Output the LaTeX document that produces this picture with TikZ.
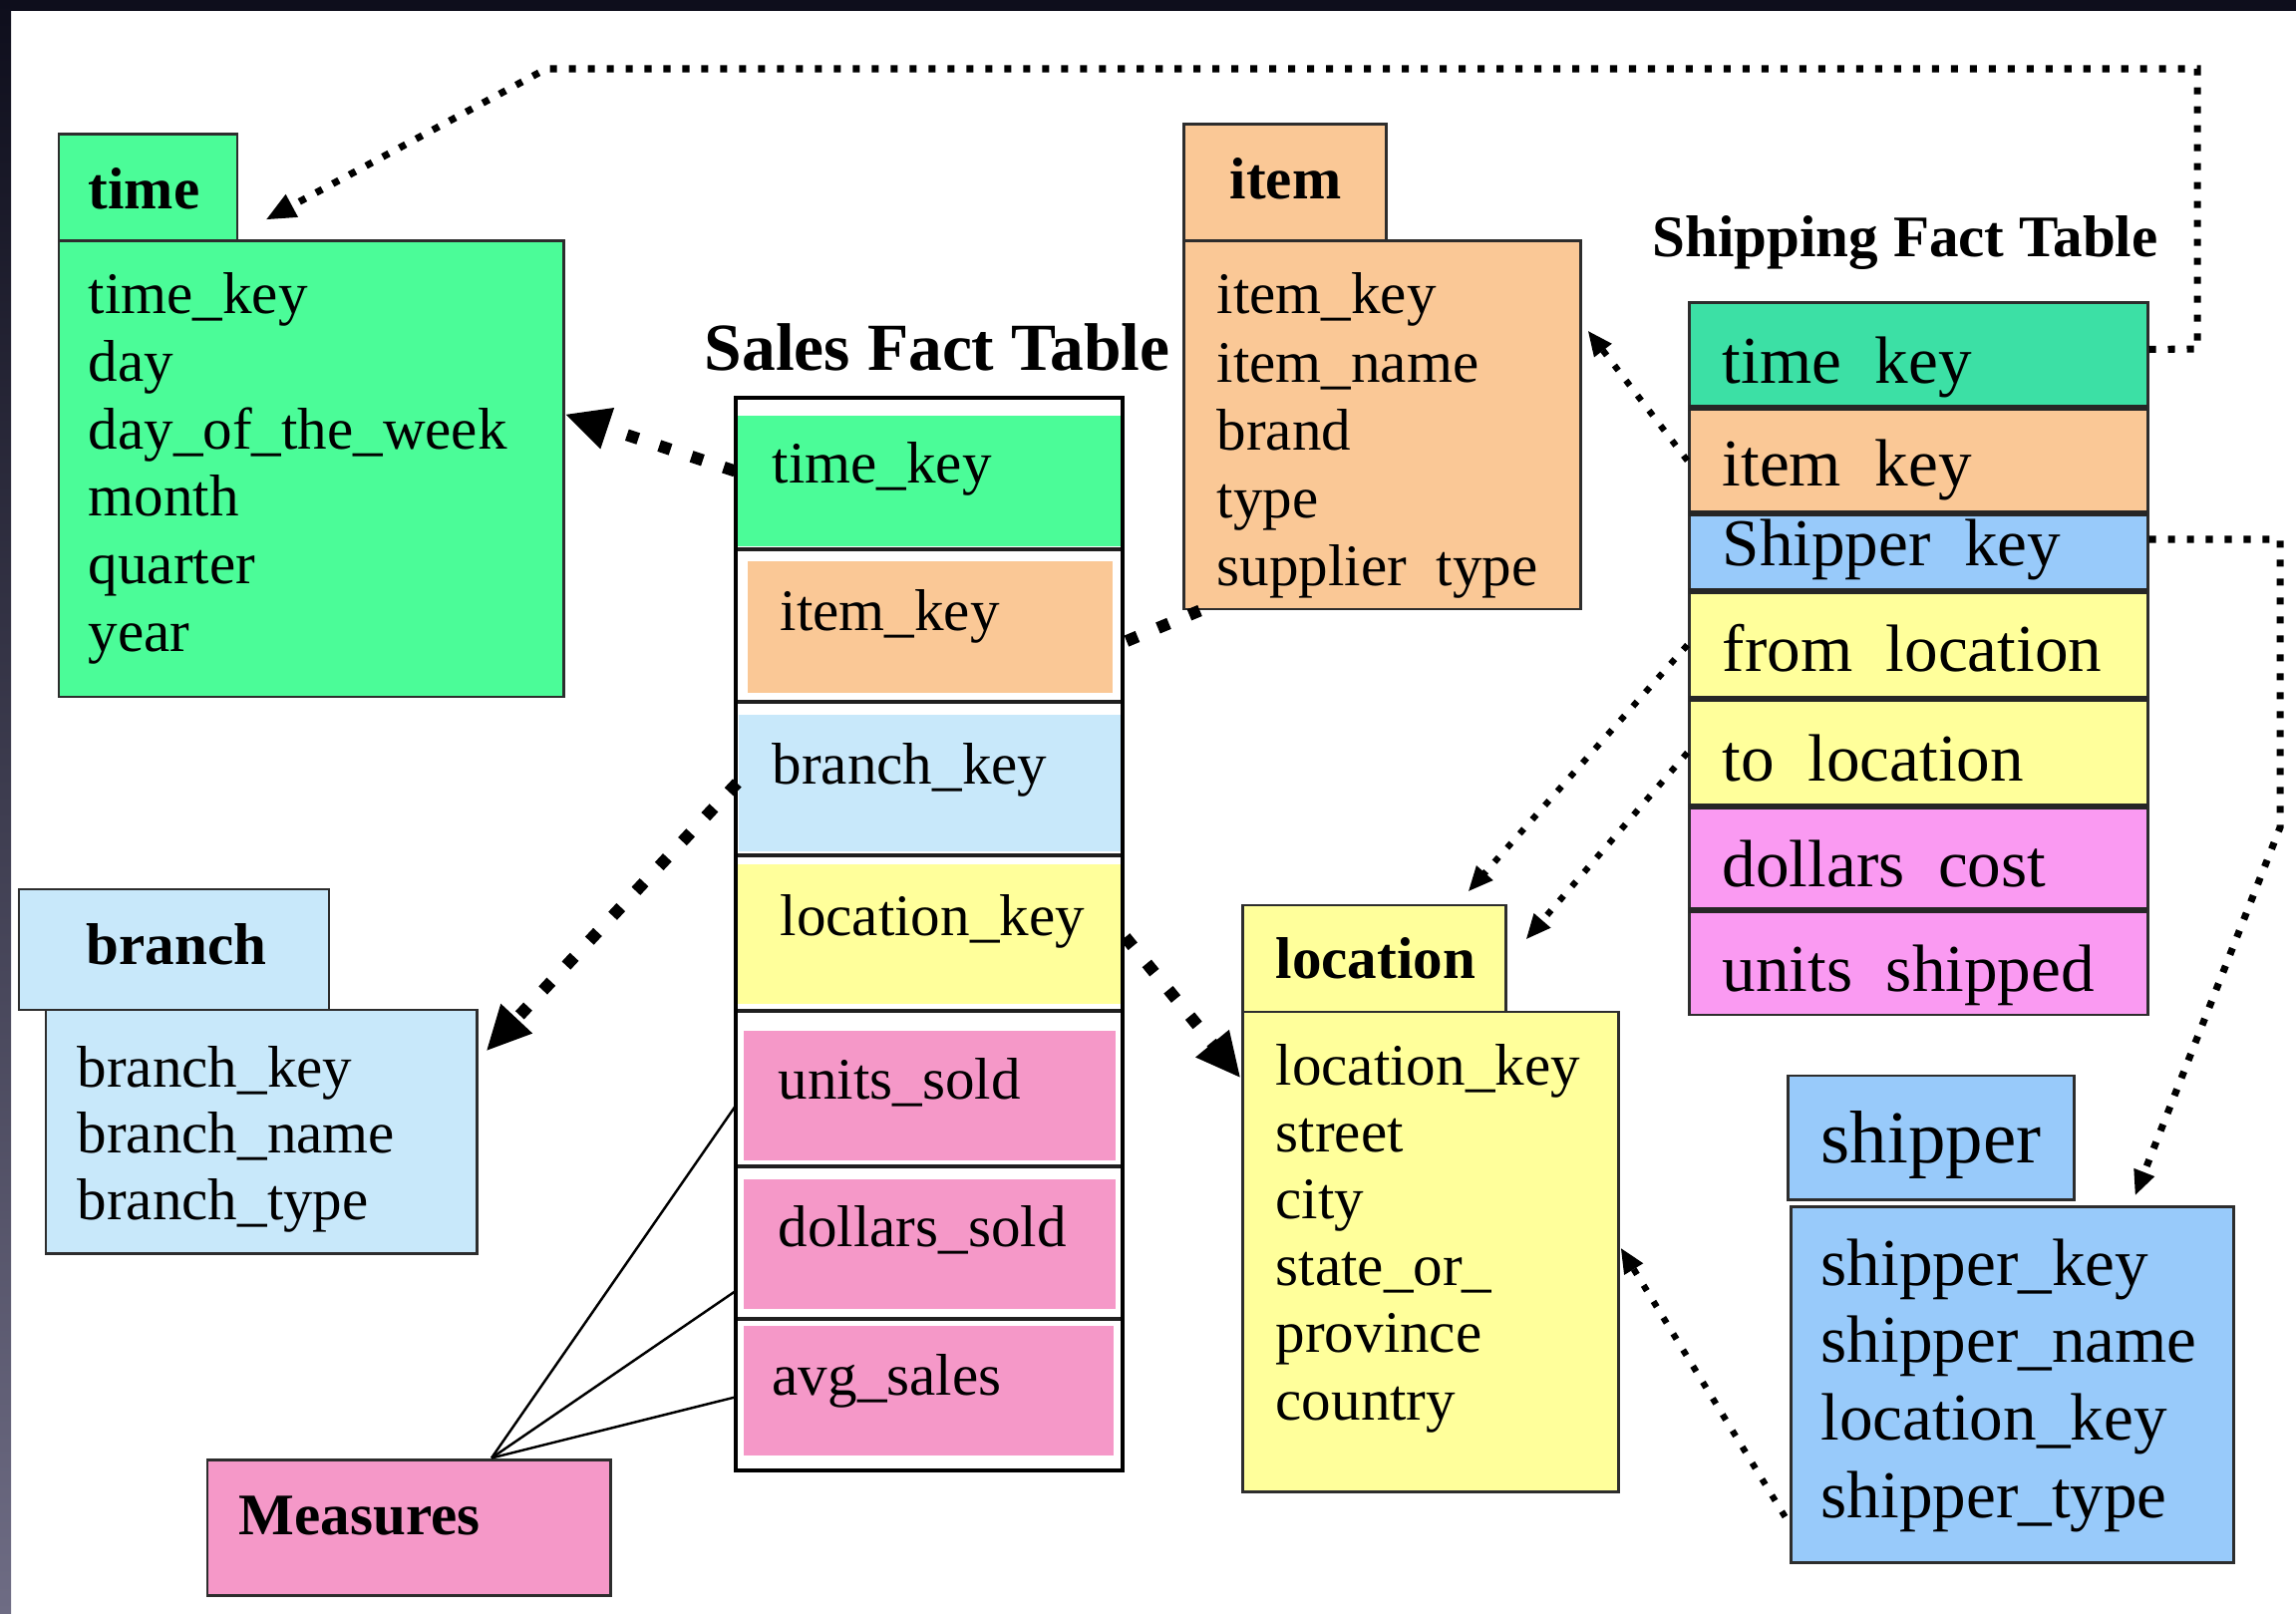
\documentclass[tikz,border=0pt]{standalone}
\usepackage{fontspec}
\setmainfont{Liberation Serif}
\usetikzlibrary{arrows.meta,calc,fit}

% colours of the tables
\definecolor{timegreen}{RGB}{75,252,152}
\definecolor{shipgreen}{RGB}{60,224,165}
\definecolor{peach}{RGB}{250,200,150}
\definecolor{paleblue}{RGB}{200,232,250}
\definecolor{skyblue}{RGB}{152,202,250}
\definecolor{lemon}{RGB}{255,255,155}
\definecolor{rose}{RGB}{245,152,200}
\definecolor{orchid}{RGB}{250,154,242}
\definecolor{edge}{RGB}{45,45,45}
\definecolor{bandtop}{RGB}{14,14,28}
\definecolor{bandbottom}{RGB}{110,108,132}

\newcommand{\fieldfont}{\fontsize{16.8pt}{20pt}\selectfont}
\newcommand{\largefield}{\fontsize{19.1pt}{22pt}\selectfont}
\newcommand{\headfont}{\fontsize{16.8pt}{20pt}\selectfont\bfseries}

\begin{document}
\begin{tikzpicture}[x=0.01cm, y=-0.01cm,
  box/.style={draw=edge, line width=0.85pt, inner sep=0pt},
  rowfill/.style={draw=none, inner sep=0pt},
  field/.style={anchor=base west, inner sep=0pt, font=\fieldfont},
  bigfield/.style={anchor=base west, inner sep=0pt, font=\largefield},
  head/.style={anchor=base west, inner sep=0pt, font=\headfont},
  rule/.style={line width=1.4pt, draw=black!88},
  fatdots/.style={line width=3.4pt, dash pattern=on 3.4pt off 6.3pt},
  slimdots/.style={line width=1.8pt, dash pattern=on 1.8pt off 3.6pt},
  topdots/.style={line width=2pt, dash pattern=on 2pt off 3.4pt},
  bigtip/.style={-{Triangle[length=12.8pt, width=11.4pt]}},
  smalltip/.style={-{Triangle[length=7.2pt, width=5.8pt]}},
  measureline/.style={line width=0.7pt, draw=black}]

% canvas and frame
\useasboundingbox (0,0) rectangle (2303,1619);
\fill[white] (0,0) rectangle (2303,1619);
\fill[bandtop] (0,0) rectangle (2303,11);
\shade[top color=bandtop, bottom color=bandbottom] (0,0) rectangle (11,1619);

% ---------------- time dimension ----------------
\node[box, fill=timegreen, fit={(59,135)(238,242)}] (timeT) {};
\node[box, fill=timegreen, fit={(59,242)(565,699)}] (timeB) {};
\node[head] (timeH) at (88,210) {time};
\foreach \t [count=\i] in {time\_key, day, day\_of\_the\_week, month, quarter, year}
  \node[field] (timeF\i) at (88,{315+67.6*(\i-1)}) {\t};

% ---------------- item dimension ----------------
\node[box, fill=peach, fit={(1187,125)(1390,242)}] (itemT) {};
\node[box, fill=peach, fit={(1187,242)(1585,611)}] (itemB) {};
\node[head] (itemH) at (1233,200) {item};
\foreach \t [count=\i] in {item\_key, item\_name, brand, type, supplier\hspace{0.5em}type}
  \node[field] (itemF\i) at (1220,{315+68.2*(\i-1)}) {\t};

% ---------------- branch dimension ----------------
\node[box, fill=paleblue, fit={(19,892)(330,1013)}] (branchT) {};
\node[box, fill=paleblue, fit={(46,1013)(478,1257)}] (branchB) {};
\node[head] (branchH) at (86,967) {branch};
\foreach \t [count=\i] in {branch\_key, branch\_name, branch\_type}
  \node[field] (branchF\i) at (77,{1090+66.5*(\i-1)}) {\t};

% ---------------- location dimension ----------------
\node[box, fill=lemon, fit={(1246,908)(1510,1015)}] (locT) {};
\node[box, fill=lemon, fit={(1246,1015)(1623,1496)}] (locB) {};
\node[head] (locH) at (1279,981) {location};
\foreach \t [count=\i] in {location\_key, street, city, state\_or\_, province, country}
  \node[field] (locF\i) at (1279,{1088+67.2*(\i-1)}) {\t};

% ---------------- shipper dimension ----------------
\node[box, fill=skyblue, fit={(1793,1079)(2080,1203)}] (shipperT) {};
\node[box, fill=skyblue, fit={(1796,1210)(2240,1567)}] (shipperB) {};
\node[anchor=base west, inner sep=0pt, font=\fontsize{21.3pt}{24pt}\selectfont] (shipperH) at (1826,1166) {shipper};
\foreach \t [count=\i] in {shipper\_key, shipper\_name, location\_key, shipper\_type}
  \node[bigfield] (shipperF\i) at (1826,{1289+77.7*(\i-1)}) {\t};

% ---------------- measures ----------------
\node[box, fill=rose, fit={(208,1464)(612,1600)}] (meas) {};
\node[head] (measH) at (239,1539) {Measures};

% ---------------- sales fact table ----------------
\node[anchor=base, inner sep=0pt, font=\fontsize{19.2pt}{22pt}\selectfont\bfseries] (salesH) at (940,372) {Sales Fact Table};
\node[rowfill, fill=timegreen, fit={(740,417)(1124,548)}] (sTime) {};
\node[rowfill, fill=peach,     fit={(750,563)(1116,695)}] (sItem) {};
\node[rowfill, fill=paleblue,  fit={(741,717)(1124,854)}] (sBranch) {};
\node[rowfill, fill=lemon,     fit={(740,867)(1124,1007)}] (sLoc) {};
\node[rowfill, fill=rose,      fit={(746,1034)(1119,1164)}] (sUnits) {};
\node[rowfill, fill=rose,      fit={(746,1183)(1119,1313)}] (sDollars) {};
\node[rowfill, fill=rose,      fit={(746,1330)(1117,1460)}] (sAvg) {};
\foreach \yy in {551,704,858,1014,1170,1323}
  \draw[rule] (738,\yy) -- (1126,\yy);
\node[draw=black, line width=1.1pt, inner sep=0pt, fit={(738,399)(1126,1475)}] (sales) {};
\node[field] (sTimeL)   at (774,485)  {time\_key};
\node[field] (sItemL)   at (782,633)  {item\_key};
\node[field] (sBranchL) at (774,787)  {branch\_key};
\node[field] (sLocL)    at (782,938)  {location\_key};
\node[field] (sUnitsL)  at (780,1102) {units\_sold};
\node[field] (sDollL)   at (780,1250) {dollars\_sold};
\node[field] (sAvgL)    at (774,1399) {avg\_sales};

% ---------------- shipping fact table ----------------
\node[head] (shipH) at (1657,258) {Shipping Fact Table};
\node[box, fill=shipgreen, fit={(1694,304)(2154,409)}] (hTime) {};
\node[box, fill=peach,     fit={(1694,409)(2154,515)}] (hItem) {};
\node[box, fill=skyblue,   fit={(1694,515)(2154,593)}] (hShipper) {};
\node[box, fill=lemon,     fit={(1694,593)(2154,701)}] (hFrom) {};
\node[box, fill=lemon,     fit={(1694,701)(2154,809)}] (hTo) {};
\node[box, fill=orchid,    fit={(1694,809)(2154,913)}] (hDollars) {};
\node[box, fill=orchid,    fit={(1694,913)(2154,1018)}] (hUnits) {};
\foreach \yy in {409,515,593,701,809,913}
  \draw[line width=1.7pt, draw=black!85] (1694,\yy) -- (2154,\yy);
\node[bigfield] (hTimeL)    at (1727,385) {time\hspace{0.5em}key};
\node[bigfield] (hItemL)    at (1727,488) {item\hspace{0.5em}key};
\node[bigfield] (hShipperL) at (1727,568) {Shipper\hspace{0.5em}key};
\node[bigfield] (hFromL)    at (1727,674) {from\hspace{0.5em}location};
\node[bigfield] (hToL)      at (1727,783) {to\hspace{0.5em}location};
\node[bigfield] (hDollarsL) at (1727,889) {dollars\hspace{0.5em}cost};
\node[bigfield] (hUnitsL)   at (1727,994) {units\hspace{0.5em}shipped};

% ---------------- measures links ----------------
\coordinate (measTop) at ($(meas.north)+(83,0)$);
\draw[measureline] (measTop) -- ($(sUnits.west)+(-8,11)$);
\draw[measureline] (measTop) -- ($(sDollars.west)+(-6,46)$);
\draw[measureline] (measTop) -- ($(sAvg.west)+(-6,6)$);

% ---------------- sales foreign keys ----------------
\draw[fatdots, bigtip] ($(sTime.west)+(-2,-10)$) -- ($(timeB.east)+(0,-55)$);
\draw[fatdots] ($(sales.north east)+(2,246)$) -- ($(itemB.south west)+(18,0)$);
\draw[fatdots, bigtip] ($(sBranch.west)+(-1,0)$) -- ($(branchB.north east)+(8,43)$);
\draw[fatdots, bigtip] ($(sLoc.east)+(4,3)$) -- ($(locB.north west)+(0,68)$);

% ---------------- shipping foreign keys ----------------
\draw[slimdots, smalltip] (hItem.west) -- ($(itemB.east)+(6,-95)$);
\draw[slimdots, smalltip] (hFrom.west) -- ($(locT.north east)+(-39,-12)$);
\draw[slimdots, smalltip] (hTo.west) -- ($(locT.north east)+(19,36)$);
\coordinate (shipBendA) at (2287,541);
\coordinate (shipBendB) at (2287,830);
\draw[topdots, smalltip] ($(hShipper.east)+(0,-13)$) -- (shipBendA) -- (shipBendB)
  -- ($(shipperB.north east)+(-100,-9)$);
\draw[slimdots, smalltip] ($(shipperB.west)+(-4,133)$) -- ($(locB.east)+(1,-4)$);
\coordinate (timeBendA) at (2204,350);
\coordinate (timeBendB) at (2204,69);
\coordinate (timeBendC) at (548,69);
\draw[topdots, -{Triangle[length=8.5pt, width=6.8pt]}] ($(hTime.east)+(0,-6)$) -- (timeBendA)
  -- (timeBendB) -- (timeBendC) -- ($(timeT.north east)+(27,87)$);
\end{tikzpicture}
\end{document}
